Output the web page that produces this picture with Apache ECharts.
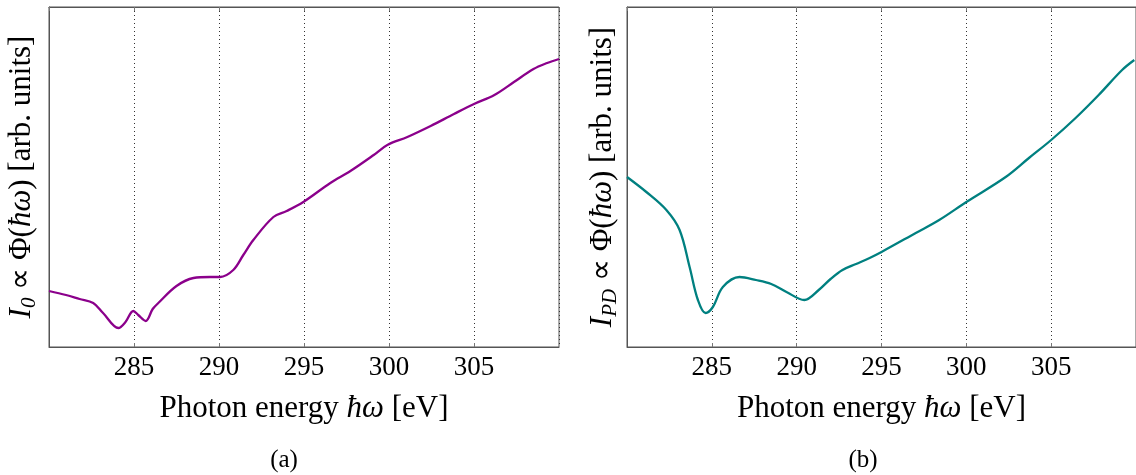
<!DOCTYPE html>
<html>
<head>
<meta charset="utf-8">
<script src="https://cdn.jsdelivr.net/npm/echarts@6/dist/echarts.min.js"></script>
<style>
html, body { margin: 0; padding: 0; background: #fff; }
#chart { width: 1136px; height: 475px; }
</style>
</head>
<body>
<div id="chart"></div>
<script>
// photon energy [eV] and intensity [arb. units]
var energyA = [280.0, 281.0, 281.8, 282.6, 283.18, 284.08, 284.5, 284.96, 285.25, 285.69, 286.1, 286.43, 287.5, 288.5, 289.47, 290.06, 290.84, 291.43, 292.02, 293.2, 293.98, 294.96, 296.55, 297.73, 299.1, 299.9, 301.08, 302.45, 303.82, 305.0, 306.2, 307.35, 308.5, 309.3, 310.0];
var intensityA = [56, 52, 48, 44, 34, 19, 25, 36, 32, 26, 38, 44, 61, 69, 70, 70, 77, 92, 107, 130, 136, 145, 164, 176, 192, 202, 210, 221, 233, 243, 252, 265, 278, 284, 288];

var energyB = [280.0, 281.14, 282.32, 283.1, 283.69, 284.18, 284.63, 285.06, 285.65, 286.63, 287.6, 288.5, 289.4, 290.45, 291.3, 292.0, 292.7, 293.5, 294.3, 295.0, 297.02, 298.4, 300.0, 302.32, 303.69, 305.0, 306.44, 307.8, 309.18, 309.9];
var intensityB = [170, 155, 137, 117, 80, 47, 34, 40, 60, 70, 67, 63, 55, 47, 57, 68, 77, 83, 89, 95, 114, 127, 145, 170, 189, 207, 229, 252, 277, 287];

var xTicks = [285, 290, 295, 300, 305];

function pairs(xs, ys) {
	var out = [];
	for (var i = 0; i < xs.length; i++) {
		out.push([xs[i], ys[i]]);
	}
	return out;
}

var font = 'Liberation Serif';
var frame = '#555';
var richStyles = {
	it: { fontFamily: font, fontSize: 31, fontStyle: 'italic', color: '#000' },
	sub: { fontFamily: font, fontSize: 21, fontStyle: 'italic', color: '#000', padding: [15, 0, 0, 0] },
	n: { fontFamily: font, fontSize: 31, color: '#000' }
};

function bottomAxis(g) {
	return {
		type: 'value', gridIndex: g, min: 280, max: 310, interval: 5,
		name: '{n|Photon energy }{it|ħω}{n| [eV]}',
		nameLocation: 'middle', nameGap: 46,
		nameTextStyle: { fontFamily: font, fontSize: 31, color: '#000', rich: richStyles },
		axisLine: { show: true, lineStyle: { color: frame } },
		axisTick: { show: true, inside: true, length: 4, lineStyle: { color: '#777' } },
		axisLabel: { fontFamily: font, fontSize: 27, color: '#000', margin: 7,
			showMinLabel: false, showMaxLabel: false,
			formatter: function (v) { return xTicks.indexOf(v) >= 0 ? String(v) : ''; } },
		splitLine: { show: true, lineStyle: { type: [1, 3], color: '#333', width: 1 } }
	};
}

function topAxis(g) {
	return {
		type: 'value', gridIndex: g, position: 'top', min: 280, max: 310, interval: 5,
		axisLine: { show: true, lineStyle: { color: frame } },
		axisTick: { show: true, inside: true, length: 4, lineStyle: { color: '#777' } },
		axisLabel: { show: false },
		splitLine: { show: false }
	};
}

function leftAxis(g, name, gap) {
	return {
		type: 'value', gridIndex: g, min: 0, max: 340,
		name: name, nameLocation: 'middle', nameGap: gap, nameRotate: 90,
		nameTextStyle: { fontFamily: font, fontSize: 31, color: '#000', rich: richStyles },
		axisLine: { show: true, lineStyle: { color: frame } },
		axisTick: { show: false },
		axisLabel: { show: false },
		splitLine: { show: false }
	};
}

var chart = echarts.init(document.getElementById('chart'));
chart.setOption({
	animation: false,
	backgroundColor: '#fff',
	title: [
		{ text: '(a)', left: 279, top: 443, textAlign: 'center',
			textStyle: { fontFamily: font, fontSize: 25, fontWeight: 'normal', color: '#000' } },
		{ text: '(b)', left: 858, top: 443, textAlign: 'center',
			textStyle: { fontFamily: font, fontSize: 25, fontWeight: 'normal', color: '#000' } }
	],
	grid: [
		{ left: 49, top: 7, width: 510, height: 340, show: true, borderColor: frame, borderWidth: 1, backgroundColor: 'transparent' },
		{ left: 627, top: 7, width: 510, height: 340, show: true, borderColor: frame, borderWidth: 1, backgroundColor: 'transparent' }
	],
	xAxis: [bottomAxis(0), bottomAxis(1), topAxis(0), topAxis(1)],
	yAxis: [
		leftAxis(0, '{it|I}{sub|0}{n| ∝ Φ(}{it|ħω}{n|) [arb. units]}', 9),
		leftAxis(1, '{it|I}{sub|PD}{n| ∝ Φ(}{it|ħω}{n|) [arb. units]}', 6)
	],
	series: [
		{ type: 'line', xAxisIndex: 0, yAxisIndex: 0, data: pairs(energyA, intensityA),
			smooth: 0.35, symbol: 'none', lineStyle: { color: '#8b008b', width: 2.3 } },
		{ type: 'line', xAxisIndex: 1, yAxisIndex: 1, data: pairs(energyB, intensityB),
			smooth: 0.35, symbol: 'none', lineStyle: { color: '#008080', width: 2.3 } }
	]
});
</script>
</body>
</html>
